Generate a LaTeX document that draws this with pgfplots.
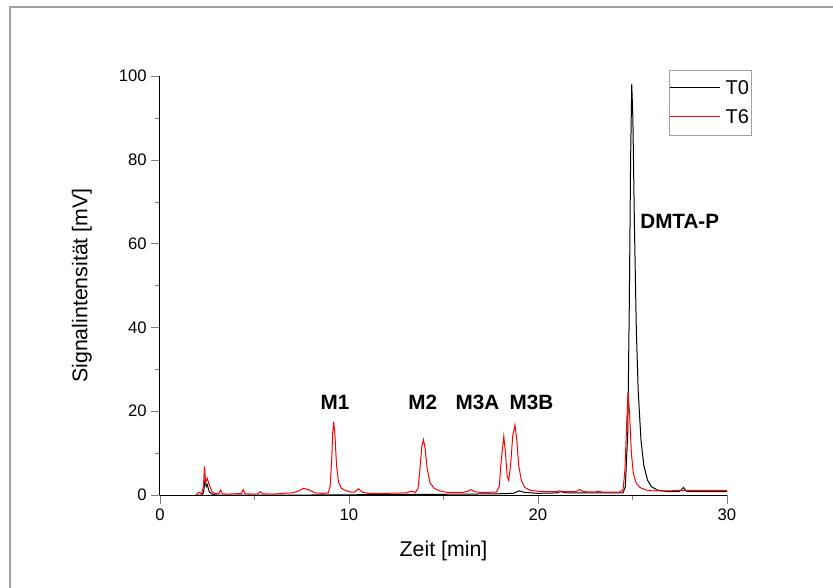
\documentclass[border=0pt]{standalone}
\usepackage{fontspec}
\setmainfont{Liberation Sans}
\usepackage{pgfplots}
\pgfplotsset{compat=1.18}
\definecolor{framegray}{RGB}{160,160,160}
\begin{document}
\begin{tikzpicture}
\path[use as bounding box] (0pt,0pt) rectangle (624.75pt,440.25pt);
\draw[framegray, line width=1pt] (7.5pt,-5pt) -- (7.5pt,435pt) -- (640pt,435pt);
\begin{axis}[
  at={(120pt,69pt)}, anchor=south west,
  scale only axis, width=425.25pt, height=314.25pt,
  xmin=0, xmax=30, ymin=0, ymax=100,
  axis x line*=bottom, axis y line*=left,
  axis line style={-, line width=0.75pt},
  tick align=outside,
  major tick length=6.5pt, minor tick length=3.75pt,
  minor tick num=1,
  xtick={0,10,20,30}, ytick={0,20,40,60,80,100},
  ticklabel style={font=\fontsize{12.5}{14}\selectfont},
  /pgf/number format/assume math mode=true,
  xlabel={Zeit [min]}, ylabel={Signalintensität [mV]},
  label style={font=\fontsize{16}{19}\selectfont},
  xlabel style={at={(axis description cs:0.5,-0.1327)}, anchor=center},
  ylabel style={at={(axis description cs:-0.1376,0.5)}, anchor=center},
  legend style={at={(1.044,1.0143)}, anchor=north east, draw=framegray,
    font=\fontsize{15}{17}\selectfont, inner xsep=0pt, inner ysep=5.5pt,
    row sep=6pt, column sep=2.5pt},
  legend cell align=left,
]
\addplot[black, line width=0.75pt,
  legend image code/.code={\node[inner sep=0pt, anchor=west] at (0pt,0pt) {\textcolor{black}{\rule[-0.375pt]{37.5pt}{0.75pt}}};}] coordinates {
(1.9,0)(2.2,0)(2.3,0.5)(2.38,3.5)(2.45,2)(2.5,2.5)(2.6,0.8)(2.8,0.1)(3,0)(5,0)(8,0)(12,0.1)(16,0.2)(18,0.3)(18.7,0.4)(19.0,1.0)(19.3,0.6)(20,0.4)(21,0.5)(21.2,0.8)(21.5,0.5)(24.5,0.5)(24.62,2)(24.75,15)(24.83,45)(24.9,80)(24.96,98)(25.02,90)(25.1,65)(25.2,40)(25.3,25)(25.45,13)(25.6,7)(25.8,3.5)(26.0,2)(26.3,1.2)(26.7,0.9)(27,0.8)(27.5,0.9)(27.7,1.8)(27.85,0.9)(28.5,0.8)(30,0.8)
};
\addlegendentry{T0}
\addplot[red, line width=0.75pt,
  legend image code/.code={\node[inner sep=0pt, anchor=west] at (0pt,0pt) {\textcolor{red}{\rule[-0.375pt]{37.5pt}{0.75pt}}};}] coordinates {
(1.9,0)(2.0,0.5)(2.1,0.6)(2.2,0.3)(2.3,2)(2.35,6.8)(2.42,3)(2.5,4)(2.6,2.5)(2.75,0.8)(2.9,0.3)(3.1,0.3)(3.2,1.2)(3.3,0.3)(3.6,0.2)(4.0,0.3)(4.3,0.3)(4.4,1.3)(4.5,0.3)(5.0,0.2)(5.2,0.3)(5.3,0.8)(5.45,0.3)(6.0,0.2)(6.5,0.4)(7.0,0.5)(7.3,0.9)(7.6,1.6)(7.9,1.2)(8.2,0.5)(8.6,0.4)(8.9,0.5)(9.0,2)(9.08,8)(9.14,15)(9.19,17.5)(9.26,14)(9.34,7)(9.45,3)(9.6,1.6)(9.8,1.1)(10.1,0.7)(10.3,0.7)(10.5,1.5)(10.7,0.7)(11,0.4)(12,0.4)(13.0,0.5)(13.3,0.9)(13.5,0.6)(13.65,1.5)(13.75,6)(13.85,11.5)(13.94,13.2)(14.03,11)(14.13,6.5)(14.28,3)(14.5,1.6)(14.8,1.0)(15.2,0.6)(16.0,0.6)(16.3,0.9)(16.45,1.3)(16.65,0.8)(17.0,0.6)(17.8,0.7)(17.95,2)(18.05,8)(18.19,14)(18.28,10)(18.37,4.5)(18.45,3.5)(18.55,7)(18.66,14)(18.78,16.7)(18.88,13)(18.98,7)(19.12,3.5)(19.3,1.8)(19.6,1.1)(20,0.9)(20.5,0.8)(21.0,0.8)(21.1,1.0)(21.4,0.8)(22.0,0.8)(22.2,1.3)(22.4,0.8)(23.0,0.7)(23.2,0.9)(23.4,0.7)(24.3,0.7)(24.5,1.2)(24.6,6)(24.7,18)(24.76,24.5)(24.84,20)(24.94,10)(25.05,5)(25.2,2.8)(25.4,1.8)(25.7,1.2)(26.0,1.0)(27,1.0)(27.3,1.1)(28,1.1)(30,1.1)
};
\addlegendentry{T6}
\node[font=\bfseries\fontsize{15.5}{18}\selectfont] at (axis cs:9.26,22.05) {M1};
\node[font=\bfseries\fontsize{15.5}{18}\selectfont] at (axis cs:13.9,22.05) {M2};
\node[font=\bfseries\fontsize{15.5}{18}\selectfont] at (axis cs:16.8,22.05) {M3A};
\node[font=\bfseries\fontsize{15.5}{18}\selectfont] at (axis cs:19.65,22.05) {M3B};
\node[font=\bfseries\fontsize{15.5}{18}\selectfont] at (axis cs:27.5,65.2) {DMTA-P};
\end{axis}
\end{tikzpicture}
\end{document}
